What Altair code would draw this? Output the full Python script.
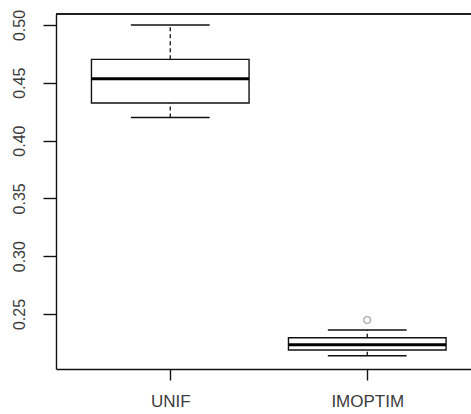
import altair as alt
import pandas as pd

groups = ["UNIF", "IMOPTIM"]
positions = [1, 2]
whisker_low = [0.420, 0.2139]
q1 = [0.4325, 0.2189]
median = [0.4535, 0.2234]
q3 = [0.4703, 0.2295]
whisker_high = [0.500, 0.2362]

outlier_positions = [2]
outlier_values = [0.2448]

y_ticks = [0.25, 0.30, 0.35, 0.40, 0.45, 0.50]

W, H = 415, 355

df = pd.DataFrame({
    "group": groups, "pos": positions, "lo": whisker_low, "q1": q1,
    "med": median, "q3": q3, "hi": whisker_high,
})
out_df = pd.DataFrame({"pos": outlier_positions, "val": outlier_values})

label_color = "#3c3c3c"
line_color = "#111111"

x_axis = alt.Axis(
    values=positions,
    labelExpr="datum.value == 1 ? 'UNIF' : 'IMOPTIM'",
    title=None, grid=False, domain=True, domainColor=line_color, domainWidth=1.4,
    tickColor=line_color, tickWidth=1.4, tickSize=11,
    labelFont="Liberation Sans", labelFontSize=17, labelColor=label_color,
    labelBaseline="alphabetic", labelPadding=26, labelAlign="center",
)
y_axis = alt.Axis(
    values=y_ticks, format=".2f",
    title=None, grid=False, domain=True, domainColor=line_color, domainWidth=1.4,
    tickColor=line_color, tickWidth=1.4, tickSize=13,
    labelFont="Liberation Sans", labelFontSize=16, labelColor=label_color,
    labelAngle=270, labelAlign="center", labelBaseline="alphabetic", labelPadding=19,
)
x_scale = alt.Scale(domain=[0.42, 0.42 + 415 / 197], nice=False, zero=False)
y_scale = alt.Scale(domain=[0.20242, 0.50952], nice=False, zero=False)


def X(field):
    return alt.X(field, type="quantitative", scale=x_scale, axis=x_axis)


def Y(field):
    return alt.Y(field, type="quantitative", scale=y_scale, axis=y_axis)


base = alt.Chart(df).transform_calculate(
    xl="datum.pos - 0.4", xr="datum.pos + 0.4",
    cl="datum.pos - 0.2", cr="datum.pos + 0.2",
)

whisk_up = base.mark_rule(color=line_color, strokeWidth=1.3, strokeDash=[4, 3]).encode(
    x=X("pos:Q"), y=Y("q3:Q"), y2="hi:Q")
whisk_dn = base.mark_rule(color=line_color, strokeWidth=1.3, strokeDash=[4, 3]).encode(
    x=X("pos:Q"), y=Y("lo:Q"), y2="q1:Q")
cap_hi = base.mark_rule(color=line_color, strokeWidth=1.4).encode(
    x=X("cl:Q"), x2="cr:Q", y=Y("hi:Q"))
cap_lo = base.mark_rule(color=line_color, strokeWidth=1.4).encode(
    x=X("cl:Q"), x2="cr:Q", y=Y("lo:Q"))
box = base.mark_rect(fill="white", stroke=line_color, strokeWidth=1.4).encode(
    x=X("xl:Q"), x2="xr:Q", y=Y("q1:Q"), y2="q3:Q")
med = base.mark_rule(color="#000000", strokeWidth=3.2).encode(
    x=X("xl:Q"), x2="xr:Q", y=Y("med:Q"))
outl = alt.Chart(out_df).mark_point(
    shape="circle", filled=False, color="#8a8a8a", size=45, strokeWidth=1.4
).encode(x=X("pos:Q"), y=Y("val:Q"))
top = alt.Chart(df).mark_rule(color=line_color, strokeWidth=1.4).encode(
    x=alt.value(0), x2=alt.value(W), y=alt.value(0))

chart = alt.layer(box, whisk_up, whisk_dn, cap_hi, cap_lo, med, outl, top).properties(
    width=W, height=H,
    autosize=alt.AutoSizeParams(type="none"),
    padding={"left": 56, "top": 14, "right": 0, "bottom": 45},
    background="white",
).configure_view(stroke=None)

chart.save("out.html", embed_options={"renderer": "svg", "actions": False})
